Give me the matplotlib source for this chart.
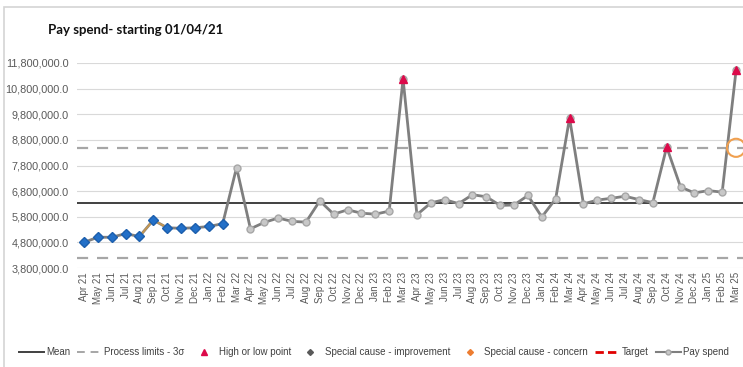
import matplotlib
matplotlib.use("Agg")
import matplotlib.pyplot as plt
from matplotlib.lines import Line2D
from matplotlib.patches import Rectangle
from matplotlib.ticker import FuncFormatter, MultipleLocator

months = [
    "Apr 21", "May 21", "Jun 21", "Jul 21", "Aug 21", "Sep 21", "Oct 21", "Nov 21",
    "Dec 21", "Jan 22", "Feb 22", "Mar 22", "Apr 22", "May 22", "Jun 22", "Jul 22",
    "Aug 22", "Sep 22", "Oct 22", "Nov 22", "Dec 22", "Jan 23", "Feb 23", "Mar 23",
    "Apr 23", "May 23", "Jun 23", "Jul 23", "Aug 23", "Sep 23", "Oct 23", "Nov 23",
    "Dec 23", "Jan 24", "Feb 24", "Mar 24", "Apr 24", "May 24", "Jun 24", "Jul 24",
    "Aug 24", "Sep 24", "Oct 24", "Nov 24", "Dec 24", "Jan 25", "Feb 25", "Mar 25",
]

pay_spend = [
    4.80e6, 5.00e6, 5.00e6, 5.14e6, 5.03e6, 5.67e6, 5.37e6, 5.35e6,
    5.37e6, 5.42e6, 5.53e6, 7.72e6, 5.33e6, 5.58e6, 5.75e6, 5.62e6,
    5.59e6, 6.42e6, 5.90e6, 6.07e6, 5.94e6, 5.90e6, 6.02e6, 11.18e6,
    5.88e6, 6.34e6, 6.47e6, 6.31e6, 6.66e6, 6.58e6, 6.24e6, 6.26e6,
    6.63e6, 5.79e6, 6.50e6, 9.65e6, 6.30e6, 6.45e6, 6.52e6, 6.60e6,
    6.47e6, 6.35e6, 8.52e6, 6.96e6, 6.73e6, 6.82e6, 6.76e6, 11.51e6,
]

mean_value = 6.34e6
upper_limit = 8.49e6
lower_limit = 4.19e6

# runs of points below the mean (special cause)
special_idx = list(range(0, 11))
# points beyond the process limits
high_idx = [23, 35, 42, 47]

x = list(range(len(months)))

plt.rcParams["font.family"] = ["Liberation Sans", "DejaVu Sans"]

fig = plt.figure(figsize=(7.43, 3.67), dpi=100)
ax = fig.add_axes([77 / 743, 99 / 367, 666 / 743, 205 / 367])

# outer chart border
fig.patches.append(Rectangle((4 / 743, -0.1), 1.2, 1.1 - 7 / 367,
                             transform=fig.transFigure, fill=False,
                             edgecolor="#d4d4d4", linewidth=1.2))

ax.axhline(mean_value, color="#404040", linewidth=1.4, zorder=2)
for lim in (upper_limit, lower_limit):
    ax.axhline(lim, color="#a6a6a6", linewidth=1.6, dashes=(5, 4), zorder=2)

ax.plot(x, pay_spend, color="#7f7f7f", linewidth=2, marker="o", markersize=5,
        markerfacecolor="#c8c8c8", markeredgecolor="#a6a6a6", zorder=3)
ax.plot(x[4:7], pay_spend[4:7], color="#e0a040", linewidth=1.4, alpha=0.7, zorder=3)

ax.plot([x[i] for i in special_idx], [pay_spend[i] for i in special_idx],
        linestyle="none", marker="D", markersize=5.5, color="#2370c8",
        markeredgecolor="#1c5fae", zorder=4)
ax.plot([x[i] for i in high_idx], [pay_spend[i] for i in high_idx],
        linestyle="none", marker="^", markersize=5.5, color="#dc0a4a", zorder=5)

# variation icon at the last point
ax.scatter([x[-1]], [upper_limit], s=170, facecolor="none", edgecolor="#f0a050",
           linewidth=1.5, zorder=6, clip_on=False)

ax.set_xlim(-0.5, len(months) - 0.5)
ax.set_ylim(3.8e6, 11.8e6)
ax.yaxis.set_major_locator(MultipleLocator(1e6, offset=0.8e6))
ax.yaxis.set_major_formatter(FuncFormatter(lambda v, p: f"{v:,.1f}"))
ax.grid(axis="y", color="#d9d9d9", linewidth=0.8)
ax.set_axisbelow(True)
for s in ax.spines.values():
    s.set_visible(False)
ax.set_xticks(x)
ax.set_xticklabels(months, rotation=90)
ax.tick_params(axis="both", length=0, labelcolor="#595959")
ax.tick_params(axis="y", pad=6, labelsize=7.8)
ax.tick_params(axis="x", pad=3, labelsize=7)

fig.text(48 / 743, 1 - 30 / 367, "Pay spend- starting 01/04/21", fontsize=9.5,
         fontweight="bold", family=["Lato", "DejaVu Sans"], va="center", color="#111111")

handles = [
    Line2D([], [], color="#404040", linewidth=1.4),
    Line2D([], [], color="#a6a6a6", linewidth=1.4, dashes=(4, 3)),
    Line2D([], [], linestyle="none", marker="^", markersize=4, color="#dc0a4a"),
    Line2D([], [], linestyle="none", marker="D", markersize=3, color="#595959"),
    Line2D([], [], linestyle="none", marker="D", markersize=3, color="#ed7d31"),
    Line2D([], [], color="#e00000", linewidth=2, dashes=(3, 1.5)),
    Line2D([], [], color="#7f7f7f", linewidth=1.5, marker="o", markersize=3.5,
           markerfacecolor="#c8c8c8", markeredgecolor="#a6a6a6"),
]
labels = ["Mean", "Process limits - 3\u03c3", "High or low point",
          "Special cause - improvement", "Special cause - concern", "Target", "Pay spend"]
fig.legend(handles, labels, loc="center left", bbox_to_anchor=(15 / 743, 1 - 352 / 367),
           ncol=7, frameon=False, fontsize=7, handlelength=2.6, handletextpad=0.2,
           columnspacing=0.7, labelcolor="#404040", borderaxespad=0)

fig.savefig("out.png", dpi=100)
